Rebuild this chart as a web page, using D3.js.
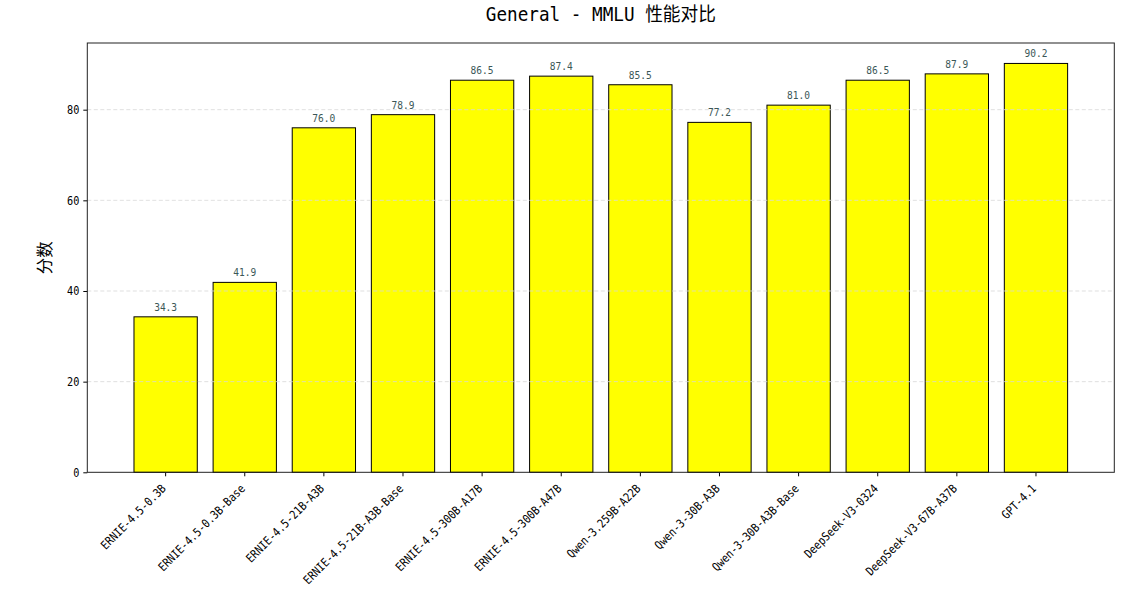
<!DOCTYPE html>
<html>
<head>
<meta charset="utf-8">
<style>
    body { margin: 0; background: #fff; }
    svg { display: block; }
</style>
</head>
<body>
<script src="https://cdn.jsdelivr.net/npm/d3@7/dist/d3.min.js"></script>
<script>
    var models = [
        "ERNIE-4.5-0.3B",
        "ERNIE-4.5-0.3B-Base",
        "ERNIE-4.5-21B-A3B",
        "ERNIE-4.5-21B-A3B-Base",
        "ERNIE-4.5-300B-A17B",
        "ERNIE-4.5-300B-A47B",
        "Qwen-3.259B-A22B",
        "Qwen-3-30B-A3B",
        "Qwen-3-30B-A3B-Base",
        "DeepSeek-V3-0324",
        "DeepSeek-V3-67B-A37B",
        "GPT-4.1"
    ];
    var scores = [34.3, 41.9, 76.0, 78.9, 86.5, 87.4, 85.5, 77.2, 81.0, 86.5, 87.9, 90.2];
    var yTicks = [0, 20, 40, 60, 80];
    var titleLatin = "General - MMLU";
    var titleCjk = "性能对比";
    var yLabel = "分数";

    var W = 1129, H = 590;
    var margin = { top: 43, right: 14.7, bottom: 117.7, left: 87.3 };
    var width = W - margin.left - margin.right,
        height = H - margin.top - margin.bottom;

    var monoFont = "'DejaVu Sans Mono', 'Liberation Mono', 'Noto Sans CJK SC', monospace";
    var cjkFont = "'Noto Sans CJK SC', 'Noto Sans', sans-serif";

    // narrow half-width latin, like SimHei
    var mono = function (sel, size) {
        sel.attr("font-family", monoFont)
            .attr("font-size", size * 0.97)
            .attr("lengthAdjust", "spacingAndGlyphs")
            .attr("textLength", function () { return this.textContent.length * size / 2; });
    };

    var svg = d3.select("body").append("svg")
        .attr("width", W)
        .attr("height", H);

    var g = svg.append("g").attr("transform", "translate(" + margin.left + "," + margin.top + ")");

    var x = d3.scaleBand()
        .domain(models)
        .range([0, width])
        .paddingInner(0.2)
        .paddingOuter(0.59);

    var y = d3.scaleLinear()
        .domain([0, d3.max(scores) * 1.05])
        .range([height, 0]);

    // bars
    g.append("g").selectAll("rect")
        .data(scores)
        .enter().append("rect")
        .attr("x", function (d, i) { return x(models[i]); })
        .attr("y", function (d) { return y(d); })
        .attr("width", x.bandwidth())
        .attr("height", function (d) { return height - y(d); })
        .attr("fill", "#ffff00")
        .attr("stroke", "#000")
        .attr("stroke-width", 1);

    // grid on top of bars
    g.append("g").selectAll("line")
        .data(yTicks.filter(function (d) { return d > 0; }))
        .enter().append("line")
        .attr("x1", 0).attr("x2", width)
        .attr("y1", function (d) { return y(d); })
        .attr("y2", function (d) { return y(d); })
        .attr("stroke", "#d8d8d8")
        .attr("stroke-width", 0.8)
        .attr("stroke-dasharray", "4,2.5");

    // value labels
    g.append("g").selectAll("text")
        .data(scores)
        .enter().append("text")
        .attr("x", function (d, i) { return x(models[i]) + x.bandwidth() / 2; })
        .attr("y", function (d) { return y(d) - 6; })
        .attr("text-anchor", "middle")
        .attr("fill", "#3b5757")
        .text(function (d) { return d.toFixed(1); })
        .call(mono, 11.5);

    // axes
    var yAxis = g.append("g")
        .call(d3.axisLeft(y).tickValues(yTicks).tickSize(4).tickPadding(4));
    yAxis.select(".domain").remove();
    yAxis.selectAll("text").attr("fill", "#000").call(mono, 12.3);

    var xAxis = g.append("g")
        .attr("transform", "translate(0," + height + ")")
        .call(d3.axisBottom(x).tickSize(4).tickFormat(""));
    xAxis.select(".domain").remove();

    g.append("g").selectAll("text")
        .data(models)
        .enter().append("text")
        .attr("transform", function (d) {
            return "translate(" + (x(d) + x.bandwidth() / 2 + 1) + "," + (height + 17) + ") rotate(-45)";
        })
        .attr("text-anchor", "end")
        .attr("fill", "#000")
        .text(function (d) { return d; })
        .call(mono, 12.3);

    // frame
    g.append("rect")
        .attr("width", width)
        .attr("height", height)
        .attr("fill", "none")
        .attr("stroke", "#222")
        .attr("stroke-width", 1);

    // y label
    svg.append("text")
        .attr("transform", "translate(51," + (margin.top + height / 2) + ") rotate(-90)")
        .attr("text-anchor", "middle")
        .attr("font-family", cjkFont)
        .attr("font-size", 16.5)
        .attr("fill", "#000")
        .text(yLabel);

    // title: one string, latin half-width and cjk full-width
    var tSize = 20;
    var titleW = (titleLatin.length + 1) * tSize / 2 + titleCjk.length * tSize;
    svg.append("text")
        .attr("x", margin.left + width / 2)
        .attr("y", 21)
        .attr("text-anchor", "middle")
        .attr("fill", "#000")
        .attr("font-family", monoFont)
        .attr("font-size", 19)
        .attr("lengthAdjust", "spacingAndGlyphs")
        .attr("textLength", titleW)
        .text(titleLatin + " " + titleCjk);
</script>
</body>
</html>
